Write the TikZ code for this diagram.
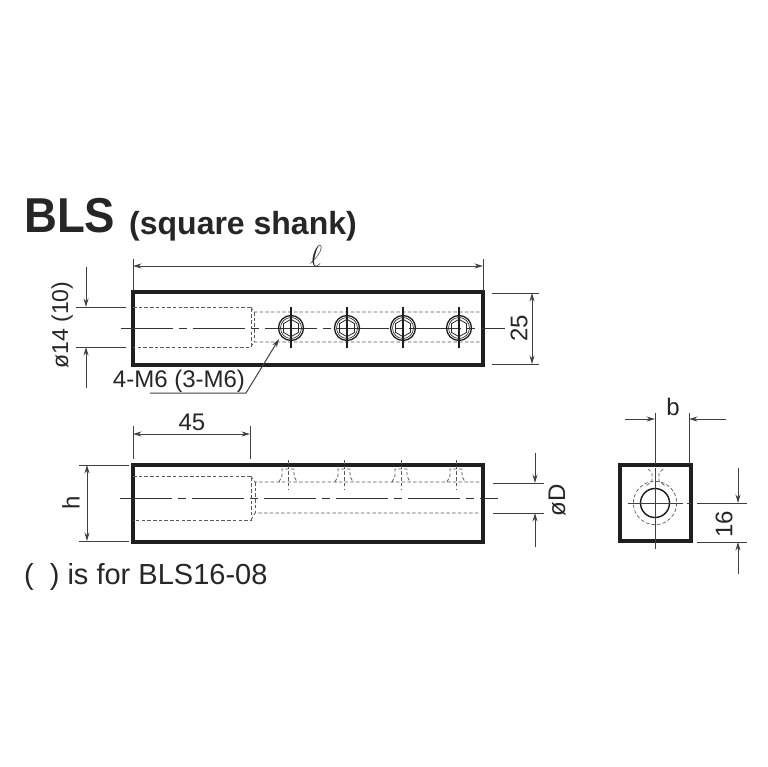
\documentclass[tikz,border=0pt]{standalone}
\usepackage{amsmath}
\usepackage{fontspec}
\setmainfont{Liberation Sans}
\usetikzlibrary{arrows.meta}
\tikzset{
  outline/.style={line width=3.2pt,draw=black!88},
  hidden/.style={line width=0.7pt,draw=black!65,dash pattern=on 3.5pt off 2.2pt},
  centre/.style={line width=1pt,draw=black!80,dash pattern=on 52pt off 6pt on 8pt off 6pt},
  thinline/.style={line width=1pt,draw=black!75},
  dim/.style={line width=1pt,draw=black!75,>={Stealth[length=8.5pt,width=5pt]}},
  lab/.style={text=black!85,font=\fontsize{24}{24}\selectfont,inner sep=0pt},
}
\begin{document}
\begin{tikzpicture}[x=1pt,y=-1pt]
        \useasboundingbox (0,0) rectangle (767,767);

        \node[lab,anchor=base west,xscale=0.93,font=\fontsize{49}{49}\selectfont\bfseries] (title) at (24,233) {BLS};
        \node[lab,anchor=base west,font=\fontsize{32}{32}\selectfont\bfseries] (subtitle) at (129,234) {(square shank)};
        \node[lab,anchor=base west,font=\fontsize{29}{29}\selectfont] (note) at (24,584) {(\hspace{16pt}) is for BLS16-08};

        % top view
        \draw[outline] (133,292) rectangle (483,365);
        \draw[hidden] (133,307) -- (251,307) -- (251,347) -- (133,347);
        \draw[hidden] (251,307) -- (254,312) -- (480,312);
        \draw[hidden] (251,347) -- (254,342) -- (480,342);
        \draw[hidden] (254,312) -- (254,342);
        \draw[centre] (121,328) -- (505,328);
        \foreach \hx/\hname in {291/a,347/b,403/c,459/d} {
          \coordinate (hole\hname) at (\hx,328);
          \draw[line width=1.3pt,draw=black!88] (hole\hname) circle (12.5);
          \draw[line width=0.7pt,draw=black!80] (hole\hname) circle (10.5);
          \draw[line width=0.8pt,draw=black!85] (\hx,319.3) -- (\hx+7.5,323.6) -- (\hx+7.5,332.4)
            -- (\hx,336.7) -- (\hx-7.5,332.4) -- (\hx-7.5,323.6) -- cycle;
          \draw[line width=1.4pt,draw=black!88] (\hx,307) -- (\hx,348);
        }

        % side view
        \draw[outline] (133,465) rectangle (483,542);
        \draw[hidden] (133,476) -- (251,476) -- (251,520) -- (133,520);
        \draw[hidden] (251,476) -- (255,482) -- (480,482);
        \draw[hidden] (251,520) -- (255,513) -- (480,513);
        \draw[hidden] (255,482) -- (255,513);
        \draw[centre] (120,498) -- (498,498);
        \foreach \tx in {288,344,401,456} {
          \draw[hidden] (\tx,460) -- (\tx,490);
          \draw[hidden] (\tx-9,482) -- (\tx-6,476) -- (\tx-6,469) -- (\tx+6,469) -- (\tx+6,476) -- (\tx+9,482);
        }

        % end view
        \coordinate (endc) at (655,503);
        \draw[outline] (620,465) rectangle (691,541);
        \draw[line width=1.4pt,draw=black!90] (endc) circle (14.5);
        \draw[hidden] (endc) circle (21.7);
        \draw[thinline] (655,468) -- (655,549);
        \draw[thinline] (628,503) -- (683,503);
        \draw[thinline] (687,503) -- (691,503);
        \draw[hidden] (648,469) -- (652,473) -- (652,481) -- (646,486);
        \draw[hidden] (663,469) -- (659,473) -- (659,481) -- (665,486);

        % length
        \coordinate (lenl) at (133,266);
        \coordinate (lenr) at (483,266);
        \draw[thinline] (133,259) -- (133,291);
        \draw[thinline] (483,259) -- (483,291);
        \draw[dim,<->] (lenl) -- (lenr);
        \node[lab] (ell) at (316,256) {\scalebox{1.2}{$\ell$}};

        % bore in top view
        \coordinate (boret) at (86,307);
        \coordinate (boreb) at (86,347);
        \draw[thinline] (76,307) -- (126,307);
        \draw[thinline] (76,347) -- (126,347);
        \draw[dim,->] (86,267) -- (boret);
        \draw[dim,->] (86,388) -- (boreb);
        \node[lab,rotate=90,anchor=base,font=\fontsize{23}{23}\selectfont] (borelab) at (68,325) {ø14 (10)};

        % width
        \coordinate (widt) at (532,293);
        \coordinate (widb) at (532,364);
        \draw[thinline] (492,293) -- (539,293);
        \draw[thinline] (492,364) -- (539,364);
        \draw[dim,<->] (widt) -- (widb);
        \node[lab,rotate=90] (widlab) at (519,328) {25};

        % thread leader
        \node[lab,anchor=base] (threadlab) at (179,387) {4-M6 (3-M6)};
        \coordinate (leadend) at (150,393);
        \coordinate (leadknee) at (246,393);
        \draw[dim,->] (leadend) -- (leadknee) -- (279,339);

        % shank length
        \coordinate (shl) at (133,434);
        \coordinate (shr) at (250,434);
        \draw[thinline] (133,426) -- (133,459);
        \draw[thinline] (250,426) -- (250,459);
        \draw[dim,<->] (shl) -- (shr);
        \node[lab] (shlab) at (192,422) {45};

        % height
        \coordinate (hgtt) at (87,465);
        \coordinate (hgtb) at (87,541);
        \draw[thinline] (79,465) -- (129,465);
        \draw[thinline] (79,541) -- (129,541);
        \draw[dim,<->] (hgtt) -- (hgtb);
        \node[lab,rotate=90] (hgtlab) at (71,503) {h};

        % bore in side view
        \coordinate (diat) at (535,483);
        \coordinate (diab) at (535,513);
        \draw[thinline] (493,483) -- (544,483);
        \draw[thinline] (493,513) -- (544,513);
        \draw[dim,->] (535,453) -- (diat);
        \draw[dim,->] (535,547) -- (diab);
        \node[lab,rotate=90] (dialab) at (557,500) {øD};

        % end view width
        \coordinate (bl) at (655,419);
        \coordinate (br) at (689,419);
        \draw[thinline] (655,413) -- (655,464);
        \draw[thinline] (689,413) -- (689,464);
        \draw[dim,->] (625,419) -- (bl);
        \draw[dim,->] (726,419) -- (br);
        \node[lab] (blab) at (673,407) {b};

        % end view height
        \coordinate (cent) at (738,503);
        \coordinate (cenb) at (738,542);
        \draw[thinline] (697,503) -- (747,503);
        \draw[thinline] (697,542) -- (747,542);
        \draw[dim,->] (738,468) -- (cent);
        \draw[dim,->] (738,574) -- (cenb);
        \node[lab,rotate=90] (cenlab) at (724,524) {16};
\end{tikzpicture}
\end{document}
